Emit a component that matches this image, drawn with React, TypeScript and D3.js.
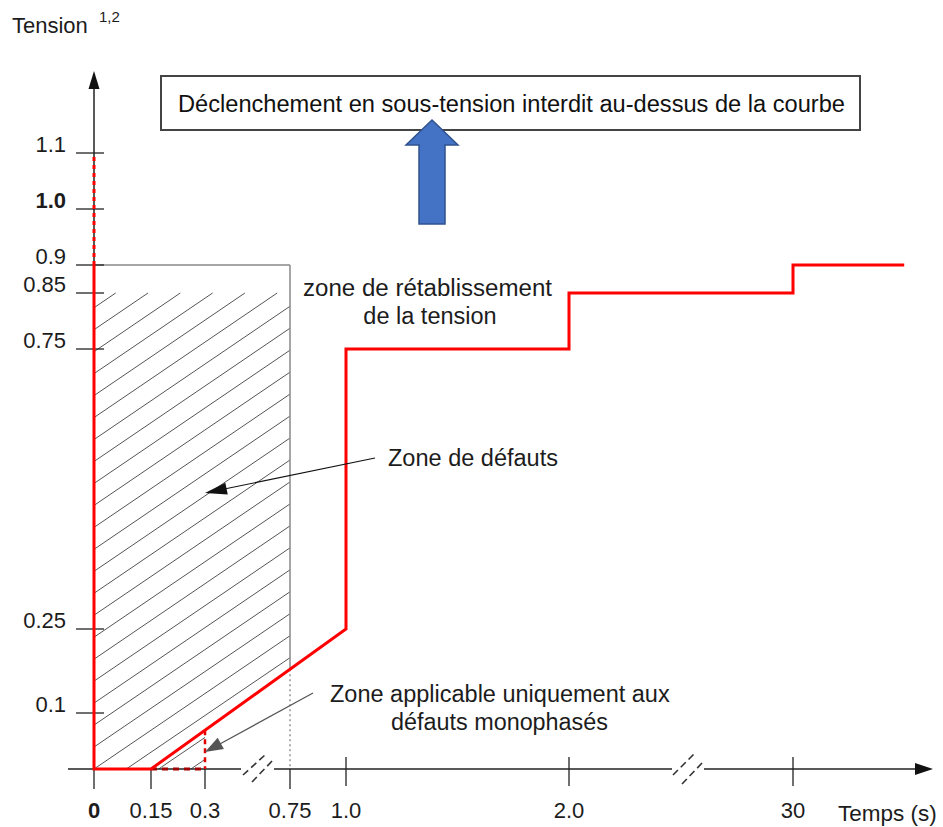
import React from "react";
import * as d3 from "d3";

// ---- data ----
const xTickValues = [0, 0.15, 0.3, 0.75, 1.0, 2.0, 30];
const xTickLabels = ["0", "0.15", "0.3", "0.75", "1.0", "2.0", "30"];
const yTickValues = [0.1, 0.25, 0.75, 0.85, 0.9, 1.0, 1.1];
const yTickLabels = ["0.1", "0.25", "0.75", "0.85", "0.9", "1.0", "1.1"];
const curveTime = [0, 0, 0.15, 1.0, 1.0, 2.0, 2.0, 30, 30, 38];
const curveVoltage = [0.9, 0, 0, 0.25, 0.75, 0.75, 0.85, 0.85, 0.9, 0.9];
const toleranceTime = [0, 0];
const toleranceVoltage = [0.9, 1.1];
const faultZoneTime = [0, 0.75];
const faultZoneVoltage = [0, 0.9];
const monoZoneTime = [0.15, 0.3];

const FONT = "'Liberation Sans', Arial, Helvetica, sans-serif";
const TXT = "#1c1c1c";

export default function App() {
  const W = 943, H = 827;
  // schematic (broken) time axis: piecewise-linear scale
  const x = d3
    .scaleLinear()
    .domain([0, 0.15, 0.3, 0.75, 1.0, 2.0, 30, 40])
    .range([94, 151, 205, 290, 346, 569, 793, 932]);
  const y = d3.scaleLinear().domain([0, 1.1]).range([769, 153]);
  const x0 = x(0), y0 = y(0);

  const line = d3
    .line<[number, number]>()
    .x((d) => x(d[0]))
    .y((d) => y(d[1]));
  const curvePts: [number, number][] = curveTime.map((t, i) => [t, curveVoltage[i]]);
  const tolPts: [number, number][] = toleranceTime.map((t, i) => [t, toleranceVoltage[i]]);

  // pixel-space y of the sloped segment (0.15,0)-(1.0,0.25)
  const ax = x(curveTime[2]), ay = y(curveVoltage[2]);
  const bx = x(curveTime[3]), by = y(curveVoltage[3]);
  const slopeY = (px: number) => ay + ((px - ax) / (bx - ax)) * (by - ay);

  const fzL = x(faultZoneTime[0]), fzR = x(faultZoneTime[1]);
  const fzTop = y(faultZoneVoltage[1]);
  const monoR = x(monoZoneTime[1]);
  const clipPoly = [
    [fzL, y0],
    [fzL, fzTop],
    [fzR, fzTop],
    [fzR, slopeY(fzR)],
    [monoR, slopeY(monoR)],
    [monoR, y0],
  ]
    .map((p) => p.join(","))
    .join(" ");

  // hatch lines
  const hatchSlope = 0.68;
  const hatchStep = 32.3;
  const hatch = d3.range(-30, 30).map((k) => {
    const sx = x0 + k * hatchStep;
    return { x1: sx, y1: y0, x2: sx + 700, y2: y0 - hatchSlope * 700 };
  });

  const arrowHead = (x1: number, y1: number, tx: number, ty: number, len: number, hw: number) => {
    const dx = tx - x1, dy = ty - y1;
    const L = Math.hypot(dx, dy);
    const ux = dx / L, uy = dy / L;
    const bxp = tx - ux * len, byp = ty - uy * len;
    return `${tx},${ty} ${bxp - uy * hw},${byp + ux * hw} ${bxp + uy * hw},${byp - ux * hw}`;
  };

  const bigTicks = new Set([1.0, 2.0, 30]);

  return (
    <svg
      width={W}
      height={H}
      style={{ position: "absolute", left: 0, top: 0, background: "#fff" }}
      fontFamily={FONT}
    >
      <defs>
        <clipPath id="hatchClip">
          <polygon points={clipPoly} />
        </clipPath>
      </defs>
      <rect x={0} y={0} width={W} height={H} fill="#fff" />

      {/* axis title */}
      <text x={12} y={33} fontSize={22} fill={TXT}>Tension</text>
      <text x={99} y={22} fontSize={15} fill={TXT}>1,2</text>

      {/* hatched fault zone */}
      <g clipPath="url(#hatchClip)">
        {hatch.map((h, i) => (
          <line key={i} {...h} stroke="#555" strokeWidth={1} />
        ))}
      </g>
      <line x1={fzL} y1={fzTop} x2={fzR} y2={fzTop} stroke="#888" strokeWidth={1.5} />
      <line x1={fzR} y1={fzTop} x2={fzR} y2={slopeY(fzR)} stroke="#888" strokeWidth={1.5} />
      <line x1={fzR} y1={slopeY(fzR)} x2={fzR} y2={y0} stroke="#777" strokeWidth={1.2} strokeDasharray="2 3" />

      {/* y axis */}
      <line x1={x0} y1={y0} x2={x0} y2={86} stroke="#222" strokeWidth={1.5} />
      <polygon points={`${x0},71 ${x0 - 5.5},89 ${x0 + 5.5},89`} fill="#111" />
      {yTickValues.map((v, i) => (
        <g key={v}>
          <line x1={76} x2={104} y1={y(v)} y2={y(v)} stroke="#222" strokeWidth={1.3} />
          <text
            x={66}
            y={y(v) - 1.5}
            textAnchor="end"
            fontSize={22}
            fontWeight={yTickLabels[i] === "1.0" ? "bold" : "normal"}
            fill={TXT}
          >
            {yTickLabels[i]}
          </text>
        </g>
      ))}

      {/* x axis with breaks */}
      <line x1={68} y1={y0} x2={241} y2={y0} stroke="#222" strokeWidth={1.5} />
      <line x1={274} y1={y0} x2={672} y2={y0} stroke="#222" strokeWidth={1.5} />
      <line x1={704} y1={y0} x2={918} y2={y0} stroke="#222" strokeWidth={1.5} />
      <polygon points={`933,${y0} 915,${y0 - 6} 915,${y0 + 6}`} fill="#111" />
      {[
        [243, 775, 265, 755],
        [252, 782, 273, 760],
        [673, 775, 695, 753],
        [682, 784, 703, 762],
      ].map((s, i) => (
        <line key={i} x1={s[0]} y1={s[1]} x2={s[2]} y2={s[3]} stroke="#333" strokeWidth={1.6} strokeDasharray="7 4" />
      ))}
      {xTickValues.map((v, i) => (
        <g key={v}>
          <line
            x1={x(v)}
            x2={x(v)}
            y1={bigTicks.has(v) ? 757 : y0}
            y2={bigTicks.has(v) ? 786 : 789}
            stroke="#222"
            strokeWidth={1.3}
          />
          <text
            x={x(v)}
            y={818}
            textAnchor="middle"
            fontSize={22}
            fontWeight={xTickLabels[i] === "0" ? "bold" : "normal"}
            fill={TXT}
          >
            {xTickLabels[i]}
          </text>
        </g>
      ))}
      <text x={838} y={821} fontSize={22.5} fill={TXT}>Temps (s)</text>

      {/* single-phase zone dashed marks */}
      <line x1={x(monoZoneTime[0])} y1={y0} x2={monoR} y2={y0} stroke="#a00000" strokeWidth={3} strokeDasharray="6 5" />
      <line x1={monoR} y1={slopeY(monoR)} x2={monoR} y2={y0} stroke="#e00000" strokeWidth={2.5} strokeDasharray="5 4" />

      {/* tolerance dotted red */}
      <path d={line(tolPts) || ""} fill="none" stroke="#f00" strokeWidth={3} strokeDasharray="4 4" />

      {/* main red curve */}
      <path d={line(curvePts) || ""} fill="none" stroke="#f00" strokeWidth={3} strokeLinejoin="miter" />

      {/* top box */}
      <rect x={161} y={76} width={699} height={54} fill="#fff" stroke="#444" strokeWidth={2} />
      <text x={178} y={112} fontSize={23.5} fill="#111" textLength={667} lengthAdjust="spacingAndGlyphs">
        Déclenchement en sous-tension interdit au-dessus de la courbe
      </text>

      {/* blue block arrow */}
      <polygon
        points="432,120 458,145 445,145 445,224 419,224 419,145 406,145"
        fill="#4472C4"
        stroke="#2F528F"
        strokeWidth={1.5}
      />

      {/* annotations */}
      <text x={303} y={296} fontSize={23.5} fill={TXT} textLength={249} lengthAdjust="spacingAndGlyphs">
        zone de rétablissement
      </text>
      <text x={430} y={324} fontSize={23.5} fill={TXT} textAnchor="middle">
        de la tension
      </text>

      <text x={388} y={466} fontSize={23.5} fill={TXT} textLength={170} lengthAdjust="spacingAndGlyphs">
        Zone de défauts
      </text>
      <line x1={375} y1={458} x2={222} y2={489.5} stroke="#111" strokeWidth={1.2} />
      <polygon points={arrowHead(375, 458, 205, 493, 22, 6)} fill="#111" />

      <text x={330} y={702} fontSize={23.5} fill={TXT}>
        Zone applicable uniquement aux
      </text>
      <text x={391} y={730} fontSize={23.5} fill={TXT} textLength={217} lengthAdjust="spacingAndGlyphs">
        défauts monophasés
      </text>
      <line x1={313} y1={693} x2={218} y2={745} stroke="#555" strokeWidth={1.2} />
      <polygon points={arrowHead(313, 693, 205, 752, 18, 6.5)} fill="#555" />
    </svg>
  );
}
